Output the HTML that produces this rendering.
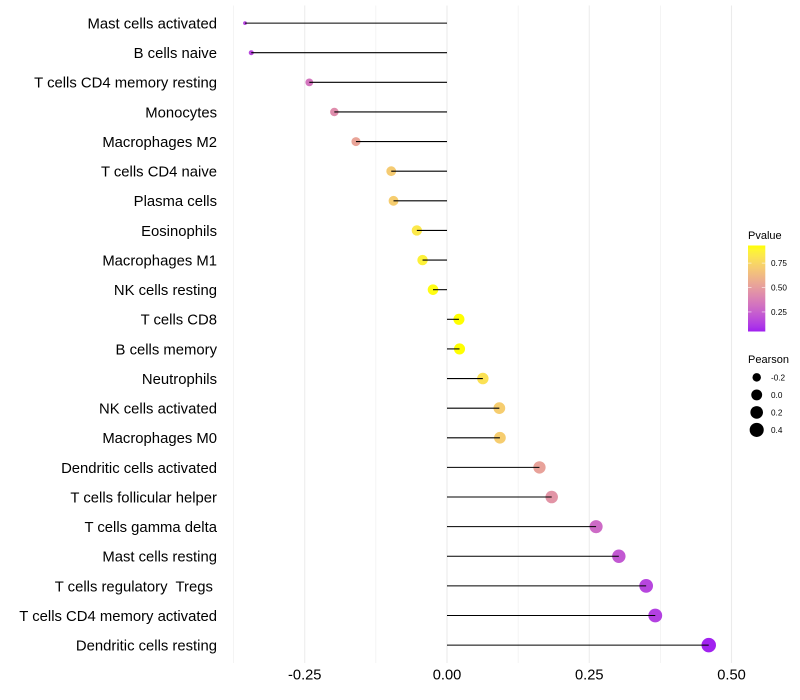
<!DOCTYPE html>
<html lang="en">
<head>
<meta charset="utf-8">
<title>Immune cell correlation lollipop chart</title>
<style>
html,body{margin:0;padding:0;background:#fff;width:800px;height:700px;overflow:hidden}
svg{display:block;font-family:"Liberation Sans",Arial,sans-serif}
text{white-space:pre}
</style>
</head>
<body>
<svg id="chart" width="800" height="700" viewBox="0 0 800 700" xmlns="http://www.w3.org/2000/svg">
<defs><linearGradient id="pgrad" x1="0" y1="1" x2="0" y2="0"></linearGradient></defs>
</svg>
<script>
const categories = ["Mast cells activated","B cells naive","T cells CD4 memory resting","Monocytes","Macrophages M2","T cells CD4 naive","Plasma cells","Eosinophils","Macrophages M1","NK cells resting","T cells CD8","B cells memory","Neutrophils","NK cells activated","Macrophages M0","Dendritic cells activated","T cells follicular helper","T cells gamma delta","Mast cells resting","T cells regulatory  Tregs ","T cells CD4 memory activated","Dendritic cells resting"];
const pearsonValues = [-0.355,-0.344,-0.242,-0.198,-0.160,-0.098,-0.094,-0.053,-0.043,-0.0246,0.021,0.022,0.063,0.092,0.093,0.1625,0.184,0.262,0.302,0.350,0.366,0.460];
const pValues = [0.15,0.16,0.33,0.43,0.53,0.70,0.71,0.83,0.87,0.92,0.93,0.93,0.80,0.71,0.71,0.52,0.46,0.29,0.22,0.155,0.135,0.055];
const xMajorTicks = [-0.25,0,0.25,0.5];
const xTickLabels = ["-0.25","0.00","0.25","0.50"];
const xMinorTicks = [-0.375,-0.125,0.125,0.375];
const colorTicks = [0.25,0.5,0.75];
const colorTickLabels = ["0.25","0.50","0.75"];
const sizeBreaks = [-0.2,0,0.2,0.4];
const sizeLabels = ["-0.2","0.0","0.2","0.4"];

const svg = document.getElementById('chart');
const NS = 'http://www.w3.org/2000/svg';
function mk(tag, attrs, parent){
  const e = document.createElementNS(NS, tag);
  for (const k in attrs) e.setAttribute(k, attrs[k]);
  (parent || svg).appendChild(e);
  return e;
}
/* axis functions */
const xScale = v => 447 + v * 569;
const yScale = i => 23.1 + i * 29.62;
const panelTop = 5.5, panelBottom = 663;
const pMin = Math.min(0.05, ...pValues), pMax = Math.max(0.93, ...pValues);
const minP = Math.min(...pearsonValues), maxP = Math.max(...pearsonValues);
const radius = v => 1.9 + 5.35 * Math.sqrt(Math.max(0, (v - minP) / (maxP - minP)));
/* Lab interpolation purple -> yellow */
function toLab(c){
  let [r,g,b] = c.map(v => { v/=255; return v>0.04045?Math.pow((v+0.055)/1.055,2.4):v/12.92; });
  let X=(0.4124*r+0.3576*g+0.1805*b)/0.95047, Y=0.2126*r+0.7152*g+0.0722*b, Z=(0.0193*r+0.1192*g+0.9505*b)/1.08883;
  const f=t=>t>0.008856?Math.cbrt(t):7.787*t+16/116;
  return [116*f(Y)-16,500*(f(X)-f(Y)),200*(f(Y)-f(Z))];
}
function fromLab(l){
  const fy=(l[0]+16)/116, fx=l[1]/500+fy, fz=fy-l[2]/200;
  const g=t=>t*t*t>0.008856?t*t*t:(t-16/116)/7.787;
  const X=g(fx)*0.95047,Y=g(fy),Z=g(fz)*1.08883;
  const rgb=[3.2406*X-1.5372*Y-0.4986*Z,-0.9689*X+1.8758*Y+0.0415*Z,0.0557*X-0.2040*Y+1.0570*Z];
  return 'rgb('+rgb.map(v=>{v=Math.max(0,Math.min(1,v));v=v>0.0031308?1.055*Math.pow(v,1/2.4)-0.055:12.92*v;return Math.round(v*255);}).join(',')+')';
}
const labLow = toLab([160,32,240]), labHigh = toLab([255,255,0]);
function colorT(t){ return fromLab(labLow.map((a,i)=>a+(labHigh[i]-a)*t)); }
const colorScale = p => colorT((p-pMin)/(pMax-pMin));

/* gridlines */
xMinorTicks.forEach(v=>{
  const l = mk('line',{x1:xScale(v),x2:xScale(v),y1:panelTop,y2:panelBottom,stroke:'#ebebeb','stroke-width':0.55});
  
  
});
xMajorTicks.forEach(v=>{
  const l = mk('line',{x1:xScale(v),x2:xScale(v),y1:panelTop,y2:panelBottom,stroke:'#ebebeb','stroke-width':1.07});
  
  
});
/* points then stems */
categories.forEach((c,i)=>{
  const pt = mk('circle',{cx:xScale(pearsonValues[i]),cy:yScale(i),r:radius(pearsonValues[i]),fill:colorScale(pValues[i])});
  
  
  const st = mk('line',{x1:xScale(0),x2:xScale(pearsonValues[i]),y1:yScale(i),y2:yScale(i),stroke:'#000','stroke-width':1.07});
  
  
  const tx = mk('text',{x:217,y:yScale(i)+5.4,'text-anchor':'end','font-size':14.85,fill:'#000'});
  tx.textContent = c;
  
  
});
/* x tick labels */
xMajorTicks.forEach((v,i)=>{
  const t = mk('text',{x:xScale(v),y:679.5,'text-anchor':'middle','font-size':14.67,fill:'#000'});
  t.textContent = xTickLabels[i];
  
  
});
/* colour legend */
const grad = document.getElementById('pgrad');
for (let i=0;i<=20;i++){ mk('stop',{offset:(i*5)+'%','stop-color':colorT(i/20)},grad); }
const legendTitle = mk('text',{x:748,y:239,'font-size':11,fill:'#000'});
legendTitle.textContent = 'Pvalue';


const barTop = 245.5, barH = 86;
const bar = mk('rect',{x:748,y:barTop,width:17.3,height:barH,fill:'url(#pgrad)'});


const barY = p => barTop + barH * (0.93 - p) / (0.93 - 0.05);
colorTicks.forEach((v,i)=>{
  const y = barY(v);
  [[748,751.5],[761.8,765.3]].forEach(seg=>{
    const l = mk('line',{x1:seg[0],x2:seg[1],y1:y,y2:y,stroke:'#fff','stroke-width':0.55});
    
    
  });
  const t = mk('text',{x:771,y:y+2.9,'font-size':8.2,fill:'#000'});
  t.textContent = colorTickLabels[i];
  
  
});
/* size legend */
const sizeTitle = mk('text',{x:748,y:363,'font-size':11,fill:'#000'});
sizeTitle.textContent = 'Pearson';


const sizeKeyTop = 377.4, sizeKeyStep = 17.5;
sizeBreaks.forEach((v,i)=>{
  const y = sizeKeyTop + i * sizeKeyStep;
  const c = mk('circle',{cx:756.7,cy:y,r:radius(v),fill:'#000'});
  
  
  const t = mk('text',{x:771,y:y+2.9,'font-size':8.2,fill:'#000'});
  t.textContent = sizeLabels[i];
  
  
});
</script>
</body>
</html>
